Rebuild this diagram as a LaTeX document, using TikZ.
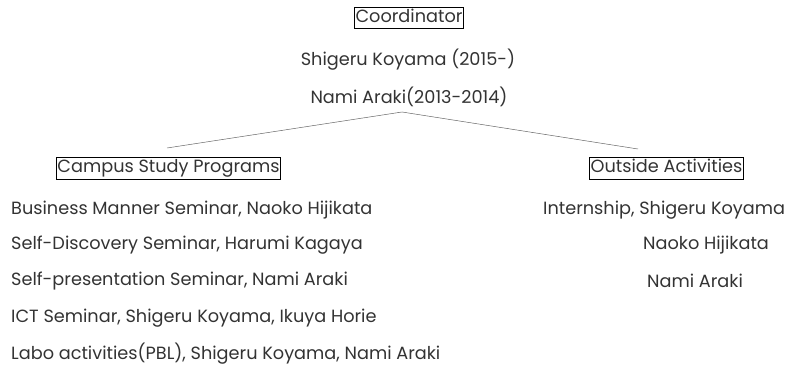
\documentclass[tikz,border=0pt]{standalone}
\usepackage{fontspec}
\setmainfont{Poppins}
\begin{document}
\begin{tikzpicture}[x=1pt,y=-1pt,
  txt/.style={inner sep=0pt,font=\fontsize{17.7}{20}\selectfont,text=black!80},
  boxed/.style={txt,draw=black,line width=0.8pt,inner xsep=1pt,inner ysep=2pt,text height=13pt,text depth=4.5pt},
  link/.style={draw=black!60,line width=0.5pt}]
\useasboundingbox (0,0) rectangle (790,367);
\node[boxed] (coord) at (409,18) {Coordinator};
\node[txt] (c1) at (408,60) {Shigeru Koyama (2015-)};
\node[txt] (c2) at (409,97) {Nami Araki(2013-2014)};
\coordinate (apex) at (402,112);
\coordinate (lend) at (167,148);
\coordinate (rend) at (638,149);
\draw[link] (lend) -- (apex) -- (rend);
\node[boxed] (campus) at (168.5,168.5) {Campus Study Programs};
\node[boxed] (outside) at (666.5,168.5) {Outside Activities};
\node[txt,anchor=west] (l1) at (11,210) {Business Manner Seminar, Naoko Hijikata};
\node[txt,anchor=west] (l2) at (11,245) {Self-Discovery Seminar, Harumi Kagaya};
\node[txt,anchor=west] (l3) at (11,281) {Self-presentation Seminar, Nami Araki};
\node[txt,anchor=west] (l4) at (11,318) {ICT Seminar, Shigeru Koyama, Ikuya Horie};
\node[txt,anchor=west] (l5) at (11,354) {Labo activities(PBL), Shigeru Koyama, Nami Araki};
\node[txt,anchor=west] (r1) at (543,210) {Internship, Shigeru Koyama};
\node[txt,anchor=west] (r2) at (643,245) {Naoko Hijikata};
\node[txt,anchor=west] (r3) at (647,281) {Nami Araki};
\end{tikzpicture}
\end{document}
